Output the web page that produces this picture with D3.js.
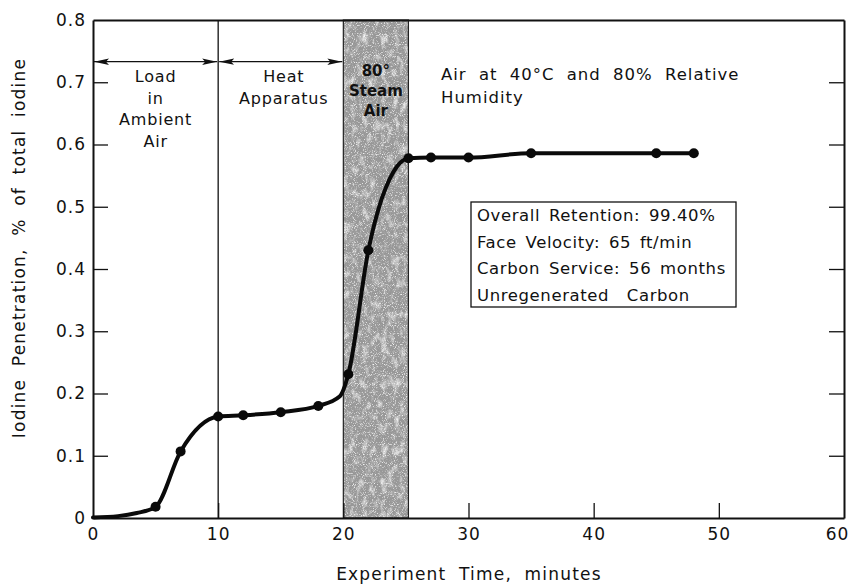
<!DOCTYPE html>
<html>
<head>
<meta charset="utf-8">
<script src="https://cdn.jsdelivr.net/npm/d3@7/dist/d3.min.js"></script>
<style>
  html, body { margin: 0; padding: 0; background: #fff; }
  svg text { font-family: "DejaVu Sans", "Noto Sans", sans-serif; fill: #111; white-space: pre; }
</style>
</head>
<body>
<svg id="chart" width="851" height="588"></svg>
<script>
// Measured penetration (% of total iodine) against experiment time (minutes)
const markerTimes  = [5, 7, 10, 12, 15, 18, 20.4, 22, 25.2, 27, 30, 35, 45, 48];
const markerValues = [0.018, 0.107, 0.163, 0.165, 0.170, 0.180, 0.231, 0.430, 0.578, 0.579, 0.579, 0.586, 0.586, 0.586];
// Smooth curve nodes (start of run plus the measured points)
const curveTimes  = [0, 2, 3.5, 5, 7, 10, 12, 15, 18, 19.7, 20.4, 22, 24.3, 25.2, 27, 30, 35, 45, 48];
const curveValues = [0.001, 0.003, 0.008, 0.018, 0.107, 0.163, 0.165, 0.170, 0.180, 0.195, 0.231, 0.430, 0.565, 0.578, 0.579, 0.579, 0.586, 0.586, 0.586];

const xTicks = [0, 10, 20, 30, 40, 50, 60];
const yTicks = [0, 0.1, 0.2, 0.3, 0.4, 0.5, 0.6, 0.7, 0.8];

// Experiment phases
const phaseBounds = [0, 10, 20];
const steamBand = [20, 25.2];
const arrowLevel = 0.733;

const boxLines = [
  "Overall Retention: 99.40%",
  "Face Velocity: 65 ft/min",
  "Carbon Service: 56 months",
  "Unregenerated  Carbon"
];

const svg = d3.select("#chart");
const plotL = 93, plotR = 844, plotT = 20, plotB = 518;

const x = d3.scaleLinear().domain([0, 60]).range([plotL, plotR]);
const y = d3.scaleLinear().domain([0, 0.8]).range([plotB, plotT]);

const fmtY = d => d === 0 ? "0" : d3.format(".1f")(d);

// mottled texture for the steam band
const defs = svg.append("defs");
const filt = defs.append("filter").attr("id", "grain").attr("x", 0).attr("y", 0).attr("width", 1).attr("height", 1);
filt.append("feTurbulence").attr("type", "fractalNoise").attr("baseFrequency", "0.16 0.09").attr("numOctaves", 3).attr("seed", 7).attr("result", "blotch");
filt.append("feColorMatrix").attr("in", "blotch").attr("type", "matrix")
  .attr("values", "0 0 0 0 0.88  0 0 0 0 0.88  0 0 0 0 0.88  2.6 0 0 0 -1.35").attr("result", "light");
filt.append("feTurbulence").attr("type", "fractalNoise").attr("baseFrequency", 0.95).attr("numOctaves", 1).attr("seed", 3).attr("result", "fine");
filt.append("feColorMatrix").attr("in", "fine").attr("type", "matrix")
  .attr("values", "0 0 0 0 0.38  0 0 0 0 0.38  0 0 0 0 0.38  0 0 0 4 -2.0").attr("result", "dark");
filt.append("feTurbulence").attr("type", "fractalNoise").attr("baseFrequency", 1.1).attr("numOctaves", 1).attr("seed", 11).attr("result", "fine2");
filt.append("feColorMatrix").attr("in", "fine2").attr("type", "matrix")
  .attr("values", "0 0 0 0 0.9  0 0 0 0 0.9  0 0 0 0 0.9  0 0 0 4 -2.2").attr("result", "speck");
filt.append("feMerge").call(m => {
  m.append("feMergeNode").attr("in", "SourceGraphic");
  m.append("feMergeNode").attr("in", "light");
  m.append("feMergeNode").attr("in", "dark");
  m.append("feMergeNode").attr("in", "speck");
});

defs.append("marker").attr("id", "arrowEnd").attr("viewBox", "0 0 15 8")
  .attr("refX", 15).attr("refY", 4).attr("markerWidth", 15).attr("markerHeight", 8)
  .attr("markerUnits", "userSpaceOnUse").attr("orient", "auto")
  .append("path").attr("d", "M0,0.8 L15,4 L0,7.2 L3,4 Z").attr("fill", "#111");
defs.append("marker").attr("id", "arrowStart").attr("viewBox", "0 0 15 8")
  .attr("refX", 0).attr("refY", 4).attr("markerWidth", 15).attr("markerHeight", 8)
  .attr("markerUnits", "userSpaceOnUse").attr("orient", "auto")
  .append("path").attr("d", "M15,0.8 L0,4 L15,7.2 L12,4 Z").attr("fill", "#111");

// steam band
const bandX = x(steamBand[0]), bandW = x(steamBand[1]) - x(steamBand[0]);
svg.append("rect")
  .attr("x", bandX).attr("y", y(0.8)).attr("width", bandW).attr("height", y(0) - y(0.8))
  .attr("fill", "#979797").attr("filter", "url(#grain)");
svg.append("rect")
  .attr("x", bandX).attr("y", y(0.8)).attr("width", bandW).attr("height", y(0) - y(0.8))
  .attr("fill", "none").attr("stroke", "#222").attr("stroke-width", 1.2);

// phase divider
svg.append("line")
  .attr("x1", x(10)).attr("x2", x(10)).attr("y1", y(0.8)).attr("y2", y(0))
  .attr("stroke", "#111").attr("stroke-width", 1.3);

// axes with inward ticks
const gl = svg.append("g").attr("transform", `translate(${plotL},0)`)
  .call(d3.axisLeft(y).tickValues(yTicks).tickFormat(fmtY).tickSizeInner(-15).tickSizeOuter(0).tickPadding(7));
const gr = svg.append("g").attr("transform", `translate(${plotR},0)`)
  .call(d3.axisRight(y).tickValues(yTicks.slice(1, -1)).tickFormat("").tickSizeInner(-15).tickSizeOuter(0));
const gb = svg.append("g").attr("transform", `translate(0,${plotB})`)
  .call(d3.axisBottom(x).tickValues(xTicks).tickFormat(d3.format("d")).tickSizeInner(-15).tickSizeOuter(0).tickPadding(8));
const gt = svg.append("g").attr("transform", `translate(0,${plotT})`)
  .call(d3.axisTop(x).tickValues([]).tickSizeOuter(0));

[gl, gr, gb, gt].forEach(g => {
  g.selectAll(".domain").attr("stroke", "#111").attr("stroke-width", 2);
  g.selectAll(".tick line").attr("stroke", "#111").attr("stroke-width", 1.3);
  g.selectAll(".tick text").attr("font-size", 17).attr("fill", "#111")
    .style("letter-spacing", "1px")
    .style("font-family", "'DejaVu Sans', sans-serif");
});
gl.selectAll(".tick").filter(d => d === 0 || d === 0.8).select("line").remove();
gb.selectAll(".tick").filter(d => d === 0 || d === 60).select("line").remove();
gb.selectAll(".tick text").attr("dy", "0.85em");
gb.selectAll(".tick").filter(d => d === 60).select("text").attr("dx", -7);

// phase arrows
for (let i = 0; i < phaseBounds.length - 1; i++) {
  svg.append("line")
    .attr("x1", x(phaseBounds[i]) + 1).attr("x2", x(phaseBounds[i + 1]) - 1)
    .attr("y1", y(arrowLevel)).attr("y2", y(arrowLevel))
    .attr("stroke", "#111").attr("stroke-width", 1.3)
    .attr("marker-start", "url(#arrowStart)").attr("marker-end", "url(#arrowEnd)");
}

// penetration curve
const line = d3.line().curve(d3.curveMonotoneX)
  .x((d, i) => x(curveTimes[i])).y((d, i) => y(curveValues[i]));
svg.append("path").datum(curveValues)
  .attr("d", line).attr("fill", "none").attr("stroke", "#0a0a0a")
  .attr("stroke-width", 4).attr("stroke-linejoin", "round").attr("stroke-linecap", "round");

svg.selectAll("circle.pt").data(markerValues).enter().append("circle")
  .attr("class", "pt")
  .attr("cx", (d, i) => x(markerTimes[i])).attr("cy", d => y(d))
  .attr("r", 5).attr("fill", "#0a0a0a");

// text blocks
function block(lines, cx, y0, dy, opts = {}) {
  const t = svg.append("text").attr("font-size", opts.size || 16)
    .attr("text-anchor", opts.anchor || "middle")
    .style("letter-spacing", (opts.ls ?? 0.8) + "px")
    .style("word-spacing", (opts.ws ?? 4) + "px");
  if (opts.weight) t.attr("font-weight", opts.weight);
  lines.forEach((s, i) => t.append("tspan").attr("x", cx).attr("y", y0 + i * dy).text(s));
  return t;
}
block(["Load", "in", "Ambient", "Air"], (x(0) + x(10)) / 2, 82, 21.5);
block(["Heat", "Apparatus"], (x(10) + x(20)) / 2 + 3, 82, 21.5);
block(["80°", "Steam", "Air"], bandX + bandW / 2, 76, 20, { weight: "bold", size: 15, ls: 0 });
block(["Air at 40°C and 80% Relative", "Humidity"], 441, 80, 23, { anchor: "start", size: 16.5, ls: 1, ws: 6 });

// conditions box
svg.append("rect").attr("x", 471).attr("y", 202).attr("width", 265).attr("height", 105)
  .attr("fill", "#fff").attr("stroke", "#111").attr("stroke-width", 1.3);
block(boxLines, 477, 221, 26.5, { anchor: "start", size: 16.5, ls: 0.6, ws: 3 });

// axis titles
svg.append("text").attr("x", 469).attr("y", 580).attr("text-anchor", "middle")
  .attr("font-size", 17).style("letter-spacing", "1.2px").style("word-spacing", "6px")
  .text("Experiment Time, minutes");
svg.append("text").attr("transform", "translate(25,248) rotate(-90)").attr("text-anchor", "middle")
  .attr("font-size", 17).style("letter-spacing", "1.2px").style("word-spacing", "6px")
  .text("Iodine Penetration, % of total iodine");
</script>
</body>
</html>
